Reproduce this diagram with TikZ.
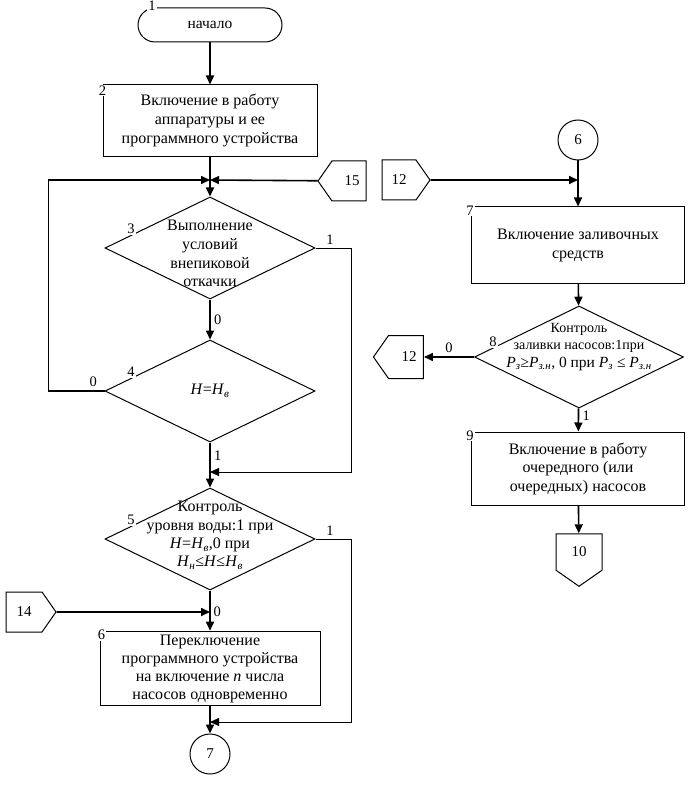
\documentclass[tikz,border=0pt]{standalone}
\usepackage{fontspec}
\setmainfont{Liberation Serif}
\usetikzlibrary{arrows.meta,calc,shapes.geometric,shapes.symbols}
\newcommand{\Hsub}[1]{\textit{H}\textsubscript{\textit{#1}}}
\newcommand{\Psub}[1]{\textit{P}\textsubscript{\textit{#1}}}
\tikzset{
  box/.style={draw, line width=1pt, minimum width=214pt, minimum height=72pt,
    align=center, font=\fontsize{16}{19}\selectfont},
  term/.style={draw, line width=1pt, rounded corners=17pt, minimum width=144pt,
    minimum height=34pt, font=\fontsize{15.5}{17}\selectfont},
  dec/.style={draw, diamond, line width=1pt, minimum width=210pt,
    minimum height=102pt, inner sep=0pt},
  dtext/.style={align=center, font=\fontsize{16}{18.8}\selectfont},
  conn/.style={draw, circle, line width=1pt, minimum size=40pt,
    font=\fontsize{15}{17}\selectfont},
  offp/.style={draw, signal, signal from=nowhere, signal pointer angle=110,
    line width=1pt, minimum width=48pt, minimum height=40pt,
    font=\fontsize{15}{17}\selectfont},
  num/.style={fill=white, inner sep=1pt, font=\fontsize{14.5}{16}\selectfont},
  lbl/.style={font=\fontsize{14.5}{16}\selectfont},
  flow/.style={line width=1.6pt},
  side/.style={line width=0.9pt},
  >={Triangle[length=9pt,width=8pt]}
}
\begin{document}
\begin{tikzpicture}[x=1pt,y=-1pt]
\useasboundingbox (0,0) rectangle (694,786);
% left column
\node[term] (start) at (210,25) {начало};
\node[num] (n1) at (152,6) {1};
\node[box] (b2) at (210,121) {Включение в работу\\аппаратуры и ее\\программного устройства};
\node[num] (n2) at ($(b2.north west)+(0,6)$) {2};
\coordinate (j1) at (210,180);
\node[offp, signal to=west] (o15) at (349,181) {\hspace{6pt}15};
\node[dec, label={[dtext,yshift=-5.5pt]center:Выполнение\\условий\\внепиковой\\откачки}] (d3) at (210,248) {};
\node[num] (n3) at ($(d3.west)!0.25!(d3.north)+(0,-6)$) {3};
\node[dec, label={[dtext]center:\textit{H}=\Hsub{в}}] (d4) at (210,391) {};
\node[num] (n4) at ($(d4.west)!0.25!(d4.north)+(0,-6)$) {4};
\coordinate (j2) at (210,472);
\node[dec, label={[dtext,yshift=3.5pt,font=\fontsize{16}{18.3}\selectfont]center:Контроль\\уровня воды:1 при\\\textit{H}=\Hsub{в},0 при\\\Hsub{н}≤\textit{H}≤\Hsub{в}}] (d5) at (210,539) {};
\node[num] (n5) at ($(d5.west)!0.25!(d5.north)+(0,-6)$) {5};
\node[offp, signal to=east, minimum width=50pt] (o14) at (24,612) {14\hspace{6pt}};
\coordinate (j3) at (210,612);
\node[box, minimum width=220pt, minimum height=71pt, font=\fontsize{16}{18}\selectfont] (b6) at (210,668.5)
  {Переключение\\программного устройства\\на включение \textit{n} числа\\насосов одновременно};
\node[num] (n6) at ($(b6.north west)+(2,4)$) {6};
\coordinate (j4) at (210,722);
\node[conn] (c7) at (210,754) {7};
% right column
\node[conn] (c6) at (578,140) {6};
\node[offp, signal to=east] (o12a) at (399,180) {12\hspace{6pt}};
\coordinate (j5) at (578,180);
\node[box, minimum width=213pt, minimum height=76pt] (b7) at (578,245) {Включение заливочных\\средств};
\node[num] (n7) at ($(b7.north west)+(-1,4)$) {7};
\node[dec, minimum width=209pt, label={[dtext,font=\fontsize{14}{17.5}\selectfont,yshift=10pt]center:Контроль\\заливки насосов:1при\\{\fontsize{15.5}{17.5}\selectfont\Psub{з}≥\Psub{з.н}, 0 при \Psub{з} ≤ \Psub{з.н}}}] (d8) at (579,357) {};
\node[num] (n8) at ($(d8.west)!0.18!(d8.north)+(0,-6)$) {8};
\node[offp, signal to=west, minimum width=50pt, minimum height=43pt] (o12b) at (406,357) {\hspace{6pt}12};
\node[box, minimum width=213pt, minimum height=73pt, font=\fontsize{16}{18.5}\selectfont] (b9) at (578,468.5)
  {Включение в работу\\очередного (или\\очередных) насосов};
\node[num] (n9) at ($(b9.north west)+(-1,4)$) {9};
\node[offp, signal to=south, minimum width=46pt, minimum height=44pt] (o10) at (579,552) {10};
% connectors, left
\draw[flow,->] (start) -- (b2);
\draw[flow] (b2) -- (j1);
\draw[flow,->] (j1) -- (d3);
\draw[flow,->] (o15) -- (j1);
\draw[flow,->] (d4.west) -- node[above, pos=0.2, lbl] {0} ++(-56,0) |- (j1);
\draw[flow,->] (d3) -- node[right, lbl] {0} (d4);
\draw[flow] (d4) -- node[right, pos=0.45, lbl] {1} (j2);
\draw[side,->] (d3.east) -- node[above, pos=0.4, lbl] {1} ++(36,0) |- (j2);
\draw[flow,->] (j2) -- (d5);
\draw[flow,->] (d5) -- (b6);
\node[right, lbl] (l14) at (j3) {0};
\draw[flow,->] (o14) -- (j3);
\draw[side,->] (d5.east) -- node[above, pos=0.4, lbl] {1} ++(36,0) |- (j4);
\draw[flow,->] (b6) -- (c7);
% connectors, right
\draw[flow,->] (c6) -- (b7);
\draw[flow,->] (o12a) -- (j5);
\draw[flow,->] (b7) -- (d8);
\draw[flow,->] (d8.west) -- node[above, lbl] {0} (o12b);
\draw[flow,->] (d8) -- node[right, pos=0.3, lbl] {1} (b9);
\draw[flow,->] (b9) -- (o10);
\end{tikzpicture}
\end{document}
